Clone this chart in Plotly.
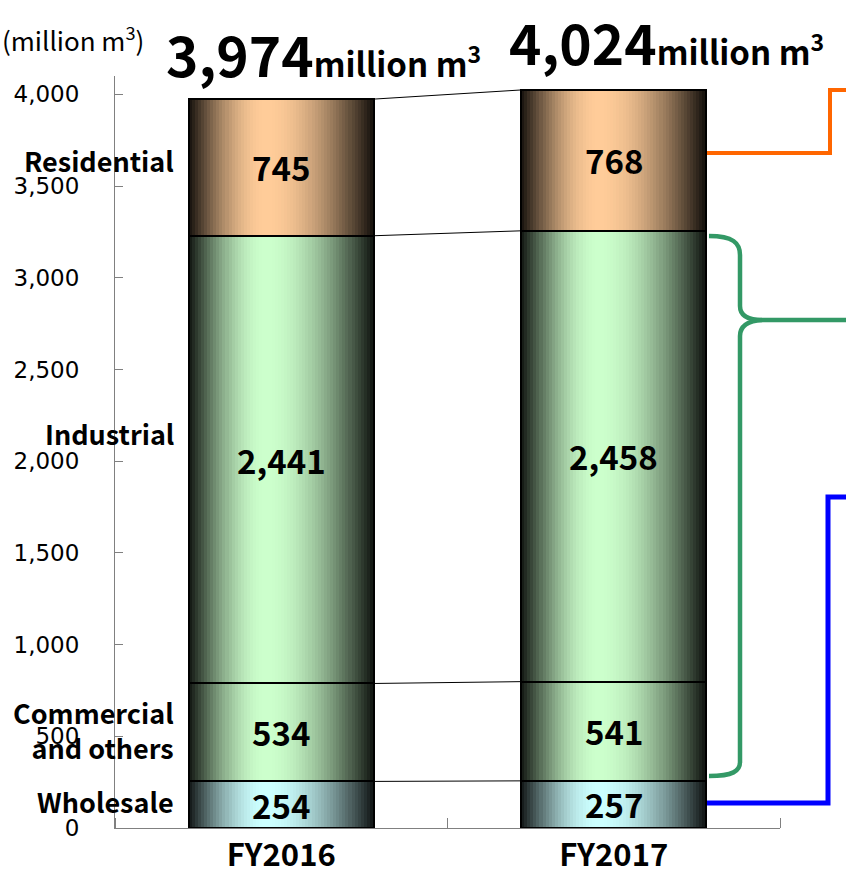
import math
import plotly.graph_objects as go

# ---------------- data ----------------
categories = ["FY2016", "FY2017"]
wholesale = [254, 257]
commercial = [534, 541]
industrial = [2441, 2458]
residential = [745, 768]
totals = [3974, 4024]
segment_names = ["Wholesale", "Commercial and others", "Industrial", "Residential"]
segment_values = [wholesale, commercial, industrial, residential]
segment_left_labels = ["Wholesale", "Commercial<br>and others", "Industrial", "Residential"]
y_tick_values = [0, 500, 1000, 1500, 2000, 2500, 3000, 3500, 4000]
unit_label = "(million m<sup>3</sup>)"

# ---------------- style ----------------
segment_colors = [(204, 255, 255), (204, 255, 204), (204, 255, 204), (255, 204, 153)]
left_label_y = [142, 534, 2153, 3640]   # vertical placement of the left-hand labels
JP = "Noto Sans CJK JP"
W, H = 846, 879
ML, MR, MT, MB = 115, 66, 76, 51
BAR_W = 0.555
N_STRIPS = 60
centers = [i + 0.5 for i in range(len(categories))]


def grad_color(c, t, p=0.42):
    f = math.sin(math.pi / 2 * t / p) if t < p else math.sin(math.pi / 2 * (1 - t) / (1 - p))
    dark = [v * 0.08 for v in c]
    rgb = [int(round(d + (v - d) * f)) for d, v in zip(dark, c)]
    return "rgb(%d,%d,%d)" % tuple(rgb)


fig = go.Figure()

# cumulative bases
bases = []
run = [0] * len(categories)
for vals in segment_values:
    bases.append(list(run))
    run = [r + v for r, v in zip(run, vals)]

# gradient strips
sw = BAR_W / N_STRIPS
for name, vals, base, col in zip(segment_names, segment_values, bases, segment_colors):
    xs, ys, bs, cs = [], [], [], []
    for ci, c in enumerate(centers):
        for k in range(N_STRIPS):
            t = (k + 0.5) / N_STRIPS
            xs.append(c - BAR_W / 2 + t * BAR_W)
            ys.append(vals[ci])
            bs.append(base[ci])
            cs.append(grad_color(col, t))
    fig.add_trace(go.Bar(x=xs, y=ys, base=bs, width=sw * 1.3,
                         marker=dict(color=cs, line=dict(width=0)),
                         showlegend=False, hoverinfo="skip", name=name))

# outlines
for name, vals, base in zip(segment_names, segment_values, bases):
    fig.add_trace(go.Bar(x=centers, y=vals, base=base, width=BAR_W,
                         marker=dict(color="rgba(0,0,0,0)", line=dict(color="black", width=2)),
                         showlegend=False, name=name))

# connector lines between bars
cum = [[b + v for b, v in zip(base, vals)] for base, vals in zip(bases, segment_values)]
for level in cum:
    fig.add_trace(go.Scatter(x=[centers[0] + BAR_W / 2, centers[1] - BAR_W / 2], y=level,
                             mode="lines", line=dict(color="black", width=1),
                             showlegend=False, hoverinfo="skip"))

annotations = []
# value labels
for vals, base in zip(segment_values, bases):
    for ci, c in enumerate(centers):
        annotations.append(dict(x=c, y=base[ci] + vals[ci] / 2, xref="x", yref="y",
                                text="{:,}".format(vals[ci]), showarrow=False,
                                font=dict(family=JP, size=33, color="black", weight="bold")))

# left category labels
for lab, ly in zip(segment_left_labels, left_label_y):
    annotations.append(dict(x=(176 - ML) / (W - ML - MR), xref="paper", xanchor="right",
                            y=ly, yref="y", text=lab, showarrow=False, align="right",
                            font=dict(family=JP, size=27, color="black", weight="bold")))

# totals
total_pos = [(165, 53), (508, 41)]
for ci, tot in enumerate(totals):
    px, py = total_pos[ci]
    annotations.append(dict(x=(px - ML) / (W - ML - MR), xref="paper", xanchor="left",
                            y=(H - MB - py) / (H - MT - MB), yref="paper", yanchor="middle",
                            text="<b>{:,}</b><span style='font-size:33px'><b>million m<sup>3</sup></b></span>".format(tot),
                            showarrow=False, borderpad=0,
                            font=dict(family=JP, size=55, color="black")))

# unit label
annotations.append(dict(x=(0 - ML) / (W - ML - MR), xref="paper", xanchor="left",
                        y=(H - MB - 38) / (H - MT - MB), yref="paper", yanchor="middle",
                        text=unit_label, showarrow=False,
                        font=dict(family=JP, size=26, color="black")))


# bracket shapes (decorative, pixel-placed)
def P(px, py):
    return "%.5f,%.5f" % ((px - ML) / (W - ML - MR), (H - MB - py) / (H - MT - MB))


shapes = [
    dict(type="path", xref="paper", yref="paper",
         path="M%s L%s L%s L%s" % (P(707, 153), P(830, 153), P(830, 90), P(850, 90)),
         line=dict(color="#FF6600", width=4)),
    dict(type="path", xref="paper", yref="paper",
         path="M%s C%s %s %s L%s C%s %s %s L%s" % (P(709, 236), P(733, 236), P(740, 243), P(740, 255),
                                                P(740, 306), P(740, 315), P(747, 320), P(762, 320),
                                                P(850, 320)),
         line=dict(color="#339966", width=4.5)),
    dict(type="path", xref="paper", yref="paper",
         path="M%s C%s %s %s L%s C%s %s %s" % (P(762, 320), P(747, 321), P(740, 326), P(740, 336),
                                            P(740, 762), P(740, 771), P(733, 776), P(709, 776)),
         line=dict(color="#339966", width=4.5)),
    dict(type="path", xref="paper", yref="paper",
         path="M%s L%s L%s L%s" % (P(707, 803), P(828, 803), P(828, 497), P(850, 497)),
         line=dict(color="#0000FF", width=5)),
]

fig.update_layout(
    width=W, height=H,
    margin=dict(l=ML, r=MR, t=MT, b=MB, pad=0, autoexpand=False),
    plot_bgcolor="white", paper_bgcolor="white",
    barmode="overlay", bargap=0,
    showlegend=False,
    annotations=annotations,
    shapes=shapes,
    xaxis=dict(range=[0, 2], showgrid=False, zeroline=False, showline=True, automargin=False,
               linecolor="#808080", linewidth=1,
               tickvals=centers, ticktext=categories, ticks="",
               tickfont=dict(family=JP, size=31, color="black", weight="bold"),
               minor=dict(tickvals=[0, 1, 2], ticks="inside", ticklen=10, tickcolor="#808080", tickwidth=1)),
    yaxis=dict(range=[0, 4100], showgrid=False, zeroline=False, showline=True, automargin=False,
               linecolor="#808080", linewidth=1,
               tickvals=y_tick_values, tickformat=",", ticks="inside", ticklen=8,
               tickcolor="#808080", ticklabelstandoff=30,
               tickfont=dict(family="DejaVu Sans", size=23, color="black")),
)

fig.write_html("out.html")
